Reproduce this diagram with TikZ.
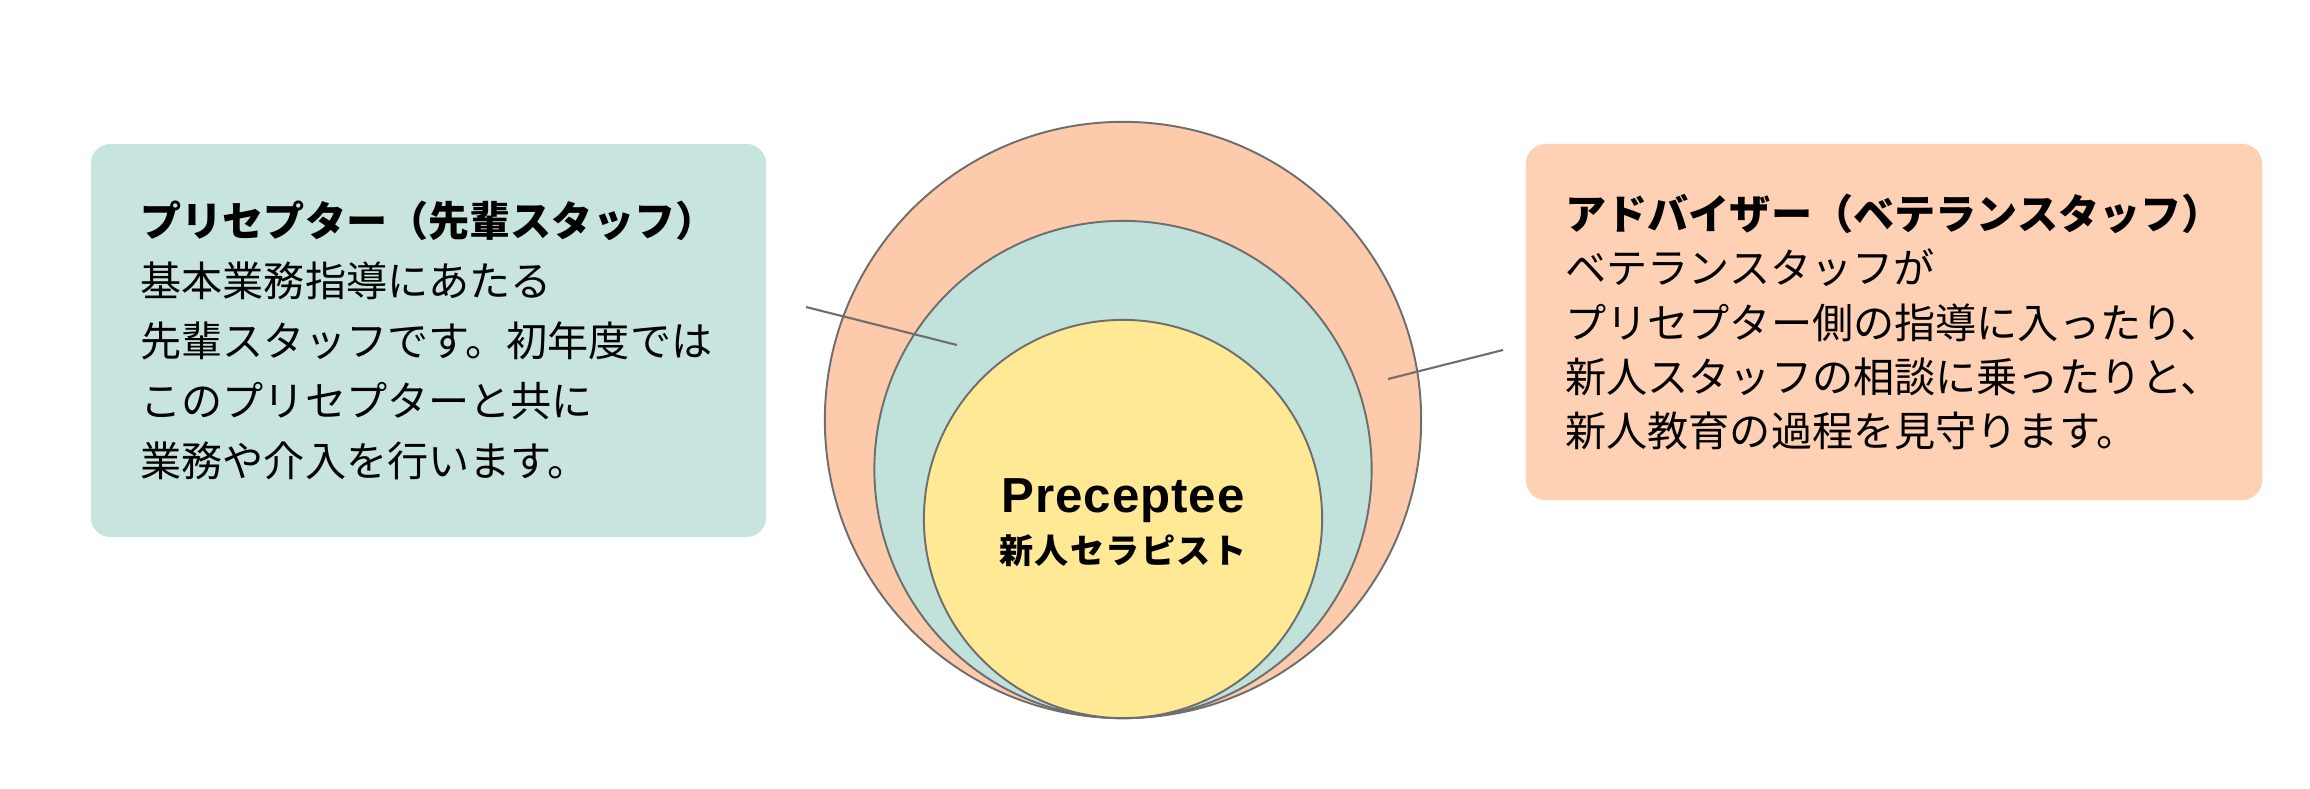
\documentclass[tikz,border=0pt]{standalone}
\usepackage{fontspec}
\newfontfamily\jpfont{Noto Sans CJK JP}
\newfontfamily\jpwide{Noto Sans CJK JP}[LetterSpace=4]
\newfontfamily\latinwide{Liberation Sans}[LetterSpace=2]

\definecolor{peachfill}{HTML}{FDCBAB}
\definecolor{peachbox}{HTML}{FED0B4}
\definecolor{tealfill}{HTML}{C1E1DB}
\definecolor{tealbox}{HTML}{C8E4DE}
\definecolor{yellowfill}{HTML}{FFE995}
\definecolor{ringline}{HTML}{6E6E6E}

\begin{document}
\begin{tikzpicture}[x=0.01cm, y=-0.01cm]
\tikzset{
  box/.style={
    rectangle, rounded corners=5.7pt, inner sep=0pt,
    align=left
  },
  ring/.style={
    circle, draw=ringline, line width=0.55pt, inner sep=0pt
  },
  leader/.style={draw=ringline, line width=0.6pt}
}
\useasboundingbox (0,0) rectangle (2310,788);

% Boxes
\node[box, fill=tealbox, minimum width=6.75cm, minimum height=3.93cm,
  font=\jpfont\fontsize{11.7}{17.1}\selectfont] (preceptor) at (428.5,340.5)
  {{\bfseries プリセプター（先輩スタッフ）}\\
   基本業務指導にあたる\\
   先輩スタッフです。初年度では\\
   このプリセプターと共に\\
   業務や介入を行います。};
\node[box, fill=peachbox, minimum width=7.36cm, minimum height=3.56cm,
  font=\jpfont\fontsize{11.7}{15.45}\selectfont] (adviser) at (1894,322)
  {{\bfseries アドバイザー（ベテランスタッフ）}\\
   ベテランスタッフが\\
   プリセプター側の指導に入ったり、\\
   新人スタッフの相談に乗ったりと、\\
   新人教育の過程を見守ります。};

% Circles
\node[ring, fill=peachfill, minimum size=5.96cm] (outer) at (1123,420) {};
\node[ring, fill=tealfill, minimum size=4.97cm] (middle) at (1123,469.5) {};
\node[ring, fill=yellowfill, minimum size=3.98cm] (inner) at (1123,519) {};

% Leader lines
\coordinate (pl-a) at (806,307);
\coordinate (pl-b) at (957,345);
\coordinate (ad-a) at (1503,350);
\coordinate (ad-b) at (1388,379);
\draw[leader] (pl-a) -- (pl-b);
\draw[leader] (ad-a) -- (ad-b);

% Labels
\node[anchor=base, inner sep=0pt, font=\latinwide\bfseries\fontsize{14}{16}\selectfont]
  (name) at (1123,512) {Preceptee};
\node[inner sep=0pt, font=\jpwide\bfseries\fontsize{9.7}{11}\selectfont]
  (role) at (1123,551) {新人セラピスト};

\end{tikzpicture}
\end{document}
